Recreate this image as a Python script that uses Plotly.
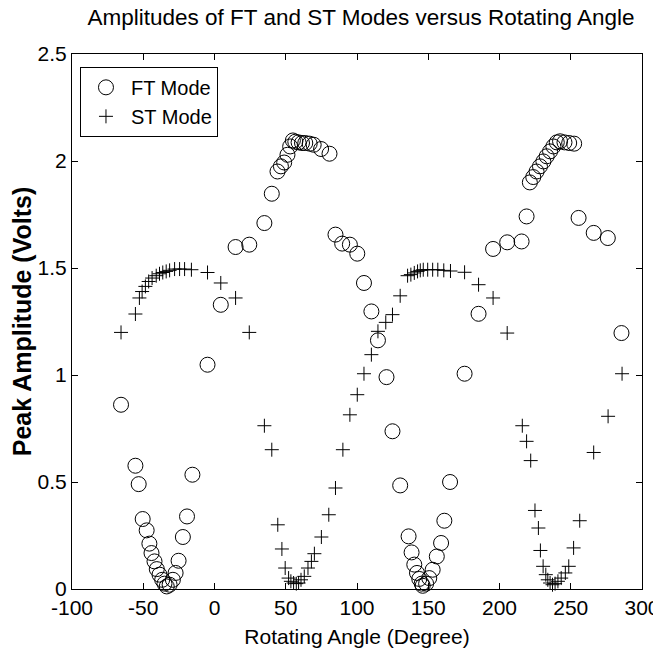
import plotly.graph_objects as go

# FT Mode (circles)
ft_x = [-65.6, -55.5, -53.2, -50.4, -47.6, -45.7, -44.2, -42.1, -40.5, -38.6,
        -36.7, -35.1, -33.5, -31.5, -29.2, -27.3, -25.2, -22.2, -19.3, -15.5,
        -4.9, 4.4, 14.8, 24.4, 35.0, 40.2, 44.2, 46.6, 48.9, 51.2,
        53.1, 55.0, 56.7, 59.0, 61.4, 63.7, 66.8, 69.6, 74.8, 80.7,
        84.9, 89.6, 95.0, 100.2, 104.9, 110.1, 114.7, 120.7, 124.9, 130.3,
        136.2, 138.3, 140.2, 142.1, 143.7, 145.4, 146.1, 148.5, 150.7, 153.1,
        156.0, 159.0, 161.3, 165.3, 175.5, 185.3, 195.5, 205.4, 215.5, 219.0,
        221.3, 223.7, 226.0, 228.4, 230.8, 233.1, 235.5, 237.8, 240.2, 242.5,
        245.6, 248.9, 252.4, 255.5, 266.1, 276.0, 285.6]
ft_y = [0.861, 0.576, 0.490, 0.327, 0.274, 0.212, 0.168, 0.129, 0.093, 0.067,
        0.043, 0.025, 0.012, 0.020, 0.043, 0.075, 0.132, 0.243, 0.339, 0.534,
        1.048, 1.328, 1.598, 1.609, 1.710, 1.847, 1.951, 1.975, 1.993, 2.029,
        2.068, 2.096, 2.090, 2.087, 2.084, 2.084, 2.081, 2.076, 2.056, 2.034,
        1.656, 1.614, 1.609, 1.567, 1.430, 1.297, 1.162, 0.990, 0.737, 0.484,
        0.246, 0.171, 0.114, 0.075, 0.047, 0.025, 0.015, 0.025, 0.051, 0.090,
        0.152, 0.215, 0.319, 0.500, 1.006, 1.286, 1.589, 1.620, 1.624, 1.741,
        1.900, 1.925, 1.951, 1.975, 1.998, 2.022, 2.045, 2.068, 2.087, 2.092,
        2.087, 2.084, 2.081, 1.734, 1.664, 1.640, 1.196]

# ST Mode (crosses)
st_x = [-65.6, -55.5, -52.7, -50.8, -48.5, -46.2, -43.8, -40.9, -38.6, -36.3,
        -33.9, -31.5, -28.0, -24.5, -21.0, -16.2, -4.9, 4.4, 14.8, 24.4,
        35.0, 40.2, 44.4, 47.3, 49.6, 52.0, 53.6, 55.5, 57.4, 59.0,
        60.7, 63.0, 65.6, 68.0, 70.1, 75.0, 80.2, 84.9, 90.1, 95.0,
        100.2, 104.9, 110.1, 114.7, 120.2, 124.9, 130.3, 135.5, 137.8, 140.2,
        142.5, 144.4, 146.5, 149.6, 153.1, 156.7, 160.9, 165.6, 175.5, 185.3,
        195.5, 205.4, 216.0, 219.0, 221.9, 224.9, 227.3, 228.7, 230.6, 232.5,
        233.9, 235.5, 237.2, 239.0, 241.0, 243.3, 246.2, 248.6, 252.0, 256.3,
        266.1, 276.2, 286.0]
st_y = [1.199, 1.285, 1.360, 1.390, 1.414, 1.437, 1.453, 1.464, 1.473, 1.479,
        1.484, 1.489, 1.495, 1.495, 1.495, 1.492, 1.479, 1.430, 1.360, 1.199,
        0.763, 0.651, 0.300, 0.187, 0.098, 0.051, 0.036, 0.028, 0.025, 0.028,
        0.043, 0.059, 0.098, 0.129, 0.165, 0.243, 0.347, 0.472, 0.651, 0.814,
        0.908, 1.006, 1.095, 1.204, 1.246, 1.282, 1.370, 1.464, 1.469, 1.477,
        1.484, 1.489, 1.492, 1.492, 1.492, 1.492, 1.489, 1.486, 1.480, 1.422,
        1.360, 1.196, 0.763, 0.690, 0.600, 0.367, 0.285, 0.180, 0.106, 0.067,
        0.043, 0.028, 0.020, 0.025, 0.036, 0.051, 0.075, 0.106, 0.192, 0.319,
        0.638, 0.807, 1.006]

x_ticks = [-100, -50, 0, 50, 100, 150, 200, 250, 300]
x_tick_labels = ["-100", "-50", "0", "50", "100", "150", "200", "250", "300"]
y_ticks = [0, 0.5, 1, 1.5, 2, 2.5]
y_tick_labels = ["0", "0.5", "1", "1.5", "2", "2.5"]

FONT = "Liberation Sans, Arial, sans-serif"

fig = go.Figure()
fig.add_trace(go.Scatter(
    x=ft_x, y=ft_y, mode="markers", name="FT Mode", cliponaxis=False,
    marker=dict(symbol="circle-open", size=15, color="black",
                line=dict(color="black", width=1)),
))
fig.add_trace(go.Scatter(
    x=st_x, y=st_y, mode="markers", name="ST Mode", cliponaxis=False,
    marker=dict(symbol="cross-thin", size=10, color="black",
                line=dict(color="black", width=1)),
))

axis_common = dict(
    showline=True, linecolor="black", linewidth=1, mirror="ticks",
    ticks="inside", ticklen=6, tickcolor="black", showgrid=False,
    zeroline=False, automargin=False,
    tickfont=dict(family=FONT, size=21, color="black"),
)

# page body adds an 8px offset, so the figure is 653x654
fig.update_layout(
    width=653, height=654,
    margin=dict(l=64, r=19, t=46, b=73),
    paper_bgcolor="white", plot_bgcolor="white",
    title=dict(text="Amplitudes of FT and ST Modes versus Rotating Angle",
               x=0.5406, xanchor="center", xref="container",
               y=1 - 9 / 654, yanchor="middle", yref="container",
               font=dict(family=FONT, size=22.5, color="black")),
    xaxis=dict(range=[-100, 300], tickvals=x_ticks, ticktext=x_tick_labels,
               title=dict(text="Rotating Angle (Degree)", standoff=11,
                          font=dict(family=FONT, size=21, color="black")),
               **axis_common),
    yaxis=dict(range=[0, 2.5], tickvals=y_ticks, ticktext=y_tick_labels,
               title=dict(text="<b>Peak Amplitude (Volts)</b>", standoff=4,
                          font=dict(family=FONT, size=25, color="black")),
               **axis_common),
    legend=dict(x=0.014, y=0.976, xanchor="left", yanchor="top",
                bgcolor="white", bordercolor="black", borderwidth=1,
                font=dict(family=FONT, size=20, color="black"),
                itemwidth=40, tracegroupgap=0),
    showlegend=True,
)

fig.write_html("out.html")
